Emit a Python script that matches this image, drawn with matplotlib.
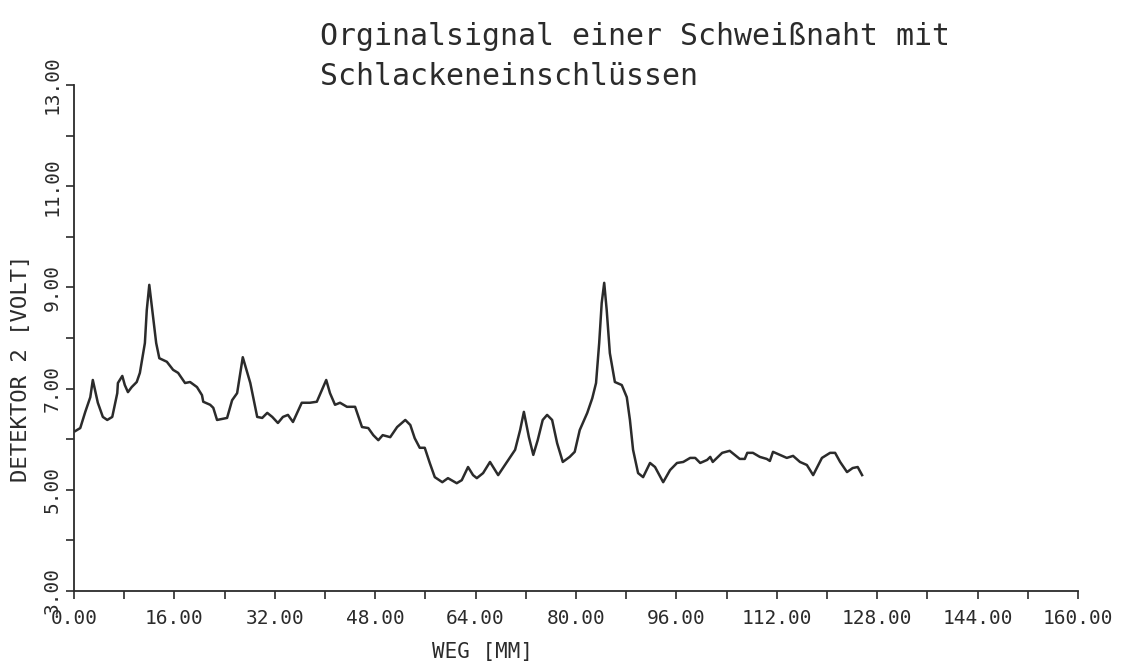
import matplotlib
matplotlib.use('Agg')
import matplotlib.pyplot as plt
from matplotlib.ticker import MultipleLocator, FixedLocator, FormatStrFormatter

# Weg in mm, Spannung Detektor 2 in Volt
weg = [0.2, 1.0, 1.8, 2.6, 3.0, 3.8, 4.6, 5.3, 6.1, 6.9, 7.0, 7.7, 8.1, 8.6, 9.2,
	10.0, 10.5, 11.3, 11.6, 12.0, 12.6, 13.1, 13.6, 14.8, 15.8, 16.6, 17.7, 18.5,
	19.6, 20.4, 20.6, 21.7, 22.2, 22.8, 23.6, 24.4, 25.2, 26.0, 26.9, 28.1, 29.2,
	30.0, 30.8, 31.6, 32.5, 33.3, 34.1, 34.9, 36.3, 37.6, 38.7, 39.5, 40.2, 40.8,
	41.6, 42.4, 43.5, 44.8, 45.9, 46.9, 47.7, 48.5, 49.2, 50.4, 51.5, 52.8, 53.6,
	54.3, 55.1, 55.9, 56.7, 57.5, 58.7, 59.6, 61.0, 61.8, 62.8, 63.6, 64.2, 65.2,
	66.3, 67.6, 69.0, 70.3, 71.1, 71.7, 72.5, 73.2, 73.9, 74.7, 75.4, 76.2, 77.0,
	77.9, 79.0, 79.8, 80.6, 81.8, 82.6, 83.2, 83.7, 84.1, 84.5, 84.9, 85.4, 86.2,
	87.3, 88.1, 88.6, 89.1, 89.9, 90.7, 91.8, 92.6, 93.9, 95.0, 96.1, 97.1, 98.2,
	99.0, 99.8, 100.9, 101.4, 101.8, 103.3, 104.5, 105.3, 106.1, 106.9, 107.3,
	108.2, 109.3, 110.4, 110.9, 111.4, 112.5, 113.6, 114.6, 115.7, 116.8, 117.8,
	119.2, 120.5, 121.3, 122.1, 123.2, 124.1, 124.9, 125.6]
spannung = [6.16, 6.22, 6.54, 6.83, 7.17, 6.72, 6.44, 6.38, 6.44, 6.91, 7.11, 7.25,
	7.07, 6.93, 7.03, 7.13, 7.31, 7.90, 8.55, 9.05, 8.42, 7.90, 7.60, 7.53, 7.37,
	7.31, 7.11, 7.13, 7.03, 6.87, 6.74, 6.68, 6.62, 6.38, 6.40, 6.42, 6.77, 6.91,
	7.62, 7.11, 6.44, 6.42, 6.52, 6.44, 6.32, 6.44, 6.48, 6.34, 6.72, 6.72, 6.74,
	6.97, 7.17, 6.91, 6.68, 6.72, 6.64, 6.64, 6.24, 6.22, 6.08, 5.98, 6.08, 6.04,
	6.24, 6.38, 6.28, 6.02, 5.83, 5.83, 5.53, 5.25, 5.15, 5.23, 5.13, 5.19, 5.45,
	5.29, 5.23, 5.33, 5.55, 5.29, 5.55, 5.79, 6.18, 6.54, 6.04, 5.69, 5.98, 6.38,
	6.48, 6.38, 5.92, 5.55, 5.65, 5.75, 6.18, 6.52, 6.81, 7.11, 7.90, 8.69, 9.09,
	8.55, 7.70, 7.13, 7.07, 6.83, 6.38, 5.79, 5.33, 5.25, 5.53, 5.45, 5.15, 5.39,
	5.53, 5.55, 5.63, 5.63, 5.53, 5.59, 5.65, 5.55, 5.73, 5.77, 5.69, 5.61, 5.61,
	5.73, 5.73, 5.65, 5.61, 5.57, 5.75, 5.69, 5.63, 5.67, 5.55, 5.49, 5.29, 5.63,
	5.73, 5.73, 5.55, 5.35, 5.43, 5.45, 5.29]

y_ticks = [3, 5, 7, 9, 11, 13]

titel = 'Orginalsignal einer Schweißnaht mit\nSchlackeneinschlüssen'
x_label = 'WEG [MM]'
y_label = 'DETEKTOR 2 [VOLT]'

plt.rcParams['font.family'] = ['DejaVu Sans Mono', 'DejaVu Sans']
ink = '#2b2b2b'

fig = plt.figure(figsize=(11.47, 6.65), dpi=100)
ax = fig.add_axes([0.0645, 0.1113, 0.8753, 0.7609])

ax.plot(weg, spannung, color=ink, lw=1.8)

ax.set_xlim(0, 160)
ax.set_ylim(3, 13)
ax.xaxis.set_major_locator(MultipleLocator(16))
ax.xaxis.set_minor_locator(MultipleLocator(8))
ax.yaxis.set_major_locator(FixedLocator(y_ticks))
ax.yaxis.set_minor_locator(MultipleLocator(1))
ax.xaxis.set_major_formatter(FormatStrFormatter('%.2f'))
ax.yaxis.set_major_formatter(FormatStrFormatter('%.2f'))

for s in ['top', 'right']:
	ax.spines[s].set_visible(False)
for s in ['left', 'bottom']:
	ax.spines[s].set_color(ink)
	ax.spines[s].set_linewidth(1.3)

ax.tick_params(which='both', direction='out', length=6, width=1.2, color=ink)
ax.tick_params(axis='x', labelsize=14, pad=7, labelcolor=ink)
ax.tick_params(axis='y', labelsize=14, pad=3, labelcolor=ink)
for lab in ax.get_yticklabels():
	lab.set_rotation(90)
	lab.set_va('center')

ax.set_xlabel(x_label, fontsize=15, color=ink)
ax.xaxis.set_label_coords(0.407, -0.10)
ax.set_ylabel(y_label, fontsize=16, color=ink)
ax.yaxis.set_label_coords(-0.043, 0.44)

fig.text(0.279, 0.915, titel, fontsize=21.5, color=ink, ha='left', va='center',
	linespacing=1.5)

fig.savefig('out.png', dpi=100, facecolor='white')
